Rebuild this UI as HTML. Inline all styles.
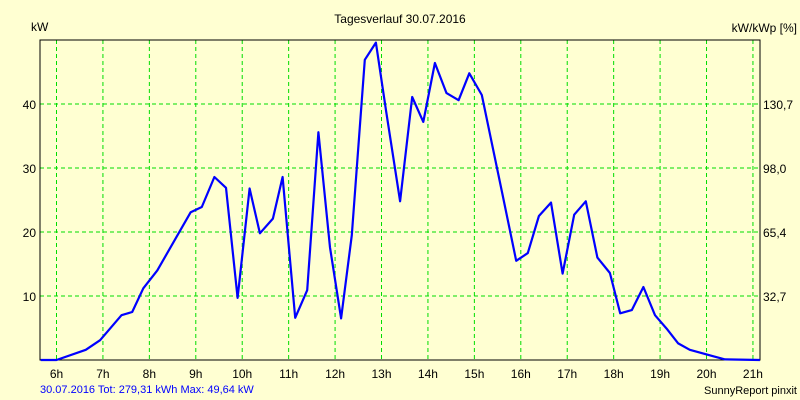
<!DOCTYPE html>
<html><head><meta charset="utf-8"><style>
body{margin:0;background:#ffffd2;}
svg{display:block;font-family:"Liberation Sans",sans-serif;}
</style></head><body>
<svg id="chart" width="800" height="400">
<rect x="0" y="0" width="800" height="400" fill="#ffffd2"/>
<text x="400" y="23" font-size="12" text-anchor="middle">Tagesverlauf 30.07.2016</text>
<text x="31" y="31" font-size="12">kW</text>
<text x="797" y="32" font-size="12" text-anchor="end">kW/kWp [%]</text>
<g id="grid"></g>
<g id="labels"></g>
<rect x="40" y="40" width="720" height="320" fill="none" stroke="#000" stroke-width="1"/>
<polyline id="line" fill="none" stroke="#0000ff" stroke-width="2.2" stroke-linejoin="round"/>
<text x="40" y="393" font-size="11" fill="#0000ff">30.07.2016 Tot: 279,31 kWh Max: 49,64 kW</text>
<text x="797" y="394" font-size="11" text-anchor="end">SunnyReport pinxit</text>
</svg>
<script>
const hourTicks=[6,7,8,9,10,11,12,13,14,15,16,17,18,19,20,21];
const kwTicks=[10,20,30,40];
const pctLabels=["32,7","65,4","98,0","130,7"];
const times=[5.66,6.0,6.63,6.94,7.4,7.63,7.87,8.17,8.89,9.13,9.4,9.65,9.9,10.16,10.38,10.66,10.87,11.14,11.4,11.64,11.89,12.13,12.36,12.64,12.88,13.1,13.4,13.66,13.9,14.15,14.4,14.66,14.89,15.16,15.6,15.9,16.15,16.39,16.65,16.9,17.15,17.4,17.65,17.92,18.14,18.39,18.64,18.89,19.14,19.39,19.64,20.14,20.4,21.15];
const power=[0,0,1.6,3.1,7.0,7.5,11.2,14,23.1,23.9,28.6,26.9,9.7,26.8,19.8,22.1,28.6,6.6,10.9,35.6,17.6,6.5,19.5,46.9,49.6,38.8,24.8,41.1,37.2,46.4,41.7,40.6,44.8,41.4,26.1,15.5,16.7,22.5,24.6,13.5,22.7,24.8,16.0,13.6,7.3,7.8,11.4,7.0,4.9,2.6,1.6,0.6,0.1,0];
const NS="http://www.w3.org/2000/svg";
const xS=h=>56.5+(h-6)*46.43;
const yS=v=>360-v*6.4;
const grid=document.getElementById('grid'),labels=document.getElementById('labels');
function mk(tag,attrs,parent){const e=document.createElementNS(NS,tag);for(const k in attrs)e.setAttribute(k,attrs[k]);parent.appendChild(e);return e;}
hourTicks.forEach(h=>{
  const l=mk('line',{x1:xS(h),x2:xS(h),y1:40,y2:360,stroke:'#00dd00','stroke-dasharray':'4,3'},grid);
  
  
  const t=mk('text',{x:xS(h),y:378,'font-size':12,'text-anchor':'middle'},labels);
  t.textContent=h+'h';
  
  
});
kwTicks.forEach((v,i)=>{
  const l=mk('line',{x1:40,x2:760,y1:yS(v),y2:yS(v),stroke:'#00dd00','stroke-dasharray':'4,3'},grid);
  
  
  const t=mk('text',{x:36,y:yS(v)+5,'font-size':12,'text-anchor':'end'},labels);
  t.textContent=v;
  
  
  const r=mk('text',{x:763,y:yS(v)+5,'font-size':12},labels);
  r.textContent=pctLabels[i];
  
  
});
document.getElementById('line').setAttribute('points',times.map((t,i)=>xS(t).toFixed(1)+','+yS(power[i]).toFixed(1)).join(' '));
</script>
</body></html>
